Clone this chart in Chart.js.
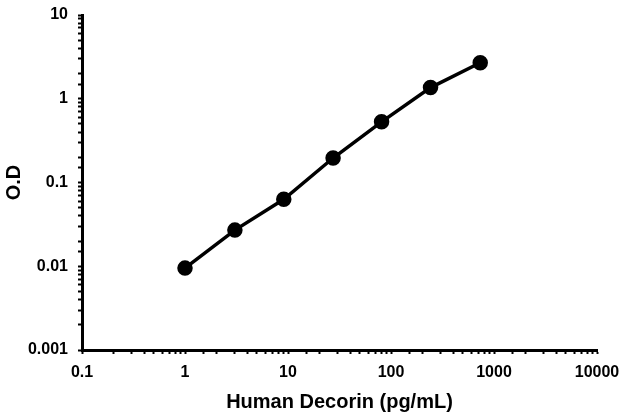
<!DOCTYPE html>
<html lang="en">
<head>
  <meta charset="UTF-8">
  <title>Human Decorin standard curve</title>
  <script src="https://cdn.jsdelivr.net/npm/chart.js"></script>
  <style>
    body {
      margin: 0;
      padding: 0;
      background: #fff;
    }
    .wrap {
      width: 624px;
      height: 414px;
      position: relative;
    }
  </style>
</head>
<body>
  <div class="wrap">
    <canvas id="curve"></canvas>
  </div>

  <script>
    // Concentração (pg/mL) e densidade óptica
    const concentrations = [1.0, 3.05, 9.1, 27.4, 81, 242, 735];
    const odValues = [0.0095, 0.027, 0.063, 0.196, 0.53, 1.36, 2.69];

    const xTitle = 'Human Decorin (pg/mL)';
    const yTitle = 'O.D';

    const FONT = "'Liberation Sans', Arial, sans-serif";

    // só rotula as potências de 10
    function decadeLabel(value) {
      const lg = Math.log10(value);
      if (Math.abs(lg - Math.round(lg)) < 1e-9) {
        return String(Number(value.toPrecision(1)));
      }
      return '';
    }

    const points = concentrations.map((x, i) => ({ x: x, y: odValues[i] }));

    const ctx = document.getElementById('curve').getContext('2d');
    new Chart(ctx, {
      type: 'line',
      data: {
        datasets: [{
          data: points,
          borderColor: '#000',
          backgroundColor: '#000',
          borderWidth: 3.5,
          pointRadius: 6,
          pointBackgroundColor: '#000',
          pointBorderColor: '#000',
          tension: 0,
          fill: false
        }]
      },
      options: {
        responsive: true,
        maintainAspectRatio: false,
        animation: false,
        layout: {
          padding: { top: 15, right: 27, left: 0, bottom: 0 }
        },
        plugins: {
          legend: { display: false },
          tooltip: { enabled: false }
        },
        scales: {
          x: {
            type: 'logarithmic',
            min: 0.1,
            max: 10000,
            border: { color: '#000', width: 3 },
            grid: {
              drawOnChartArea: false,
              drawTicks: true,
              tickLength: 4,
              tickColor: '#000',
              tickWidth: 2
            },
            ticks: {
              autoSkip: false,
              maxRotation: 0,
              padding: 9,
              color: '#000',
              font: { family: FONT, size: 16, weight: 'bold' },
              callback: decadeLabel
            },
            title: {
              display: true,
              text: xTitle,
              color: '#000',
              font: { family: FONT, size: 20, weight: 'bold' },
              padding: { top: 6, bottom: 0 }
            },
            afterFit: (scale) => {
              scale.height = 64;
              scale.paddingLeft = 0;
              scale.paddingRight = 0;
            }
          },
          y: {
            type: 'logarithmic',
            min: 0.001,
            max: 10,
            border: { color: '#000', width: 3 },
            grid: {
              drawOnChartArea: false,
              drawTicks: true,
              tickLength: 4,
              tickColor: '#000',
              tickWidth: 2
            },
            ticks: {
              autoSkip: false,
              padding: 10,
              color: '#000',
              font: { family: FONT, size: 16, weight: 'bold' },
              callback: decadeLabel
            },
            title: {
              display: true,
              text: yTitle,
              color: '#000',
              font: { family: FONT, size: 20, weight: 'bold' },
              padding: { top: 2, bottom: 0 }
            },
            afterFit: (scale) => {
              scale.width = 82;
              scale.paddingTop = 0;
              scale.paddingBottom = 0;
            }
          }
        }
      }
    });
  </script>
</body>
</html>
